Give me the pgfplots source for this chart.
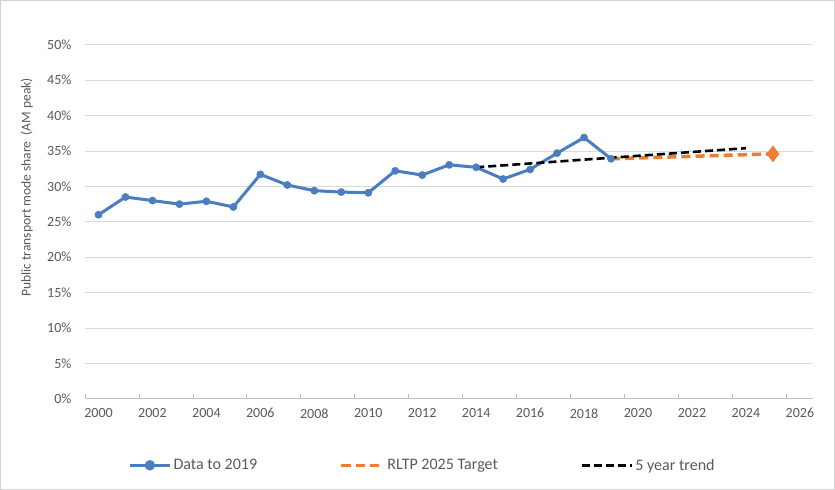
\documentclass[border=0pt]{standalone}
\usepackage{pgfplots}
\pgfplotsset{compat=1.18}
\usepackage{fontspec}
\setmainfont{Carlito}
\definecolor{cblue}{HTML}{4A7EBF}
\definecolor{corange}{HTML}{ED7D31}
\definecolor{cgrid}{HTML}{D9D9D9}
\definecolor{caxis}{HTML}{BFBFBF}
\definecolor{ctext}{HTML}{595959}
\pgfplotstableread{
x y
2000 26.0
2001 28.5
2002 28.0
2003 27.5
2004 27.9
2005 27.1
2006 31.7
2007 30.2
2008 29.4
2009 29.2
2010 29.1
2011 32.2
2012 31.6
2013 33.05
2014 32.7
2015 31.05
2016 32.4
2017 34.7
2018 36.9
2019 33.9
}\datatab
\begin{document}
\begin{tikzpicture}
\begin{axis}[
  scale only axis,
  width=724bp, height=352bp,
  xmin=1999.5, xmax=2026.5,
  ymin=0, ymax=50,
  xtick={2000,2002,...,2026},
  xticklabels={2000,2002,2004,2006,2008,2010,2012,2014,2016,2018,2020,2022,2024,2026},
  ytick={0,5,...,50},
  yticklabel={\pgfmathprintnumber{\tick}\%},
  major tick length=0pt,
  extra x ticks={1999.5,2001.5,...,2025.5},
  extra x tick labels={},
  extra x tick style={major tick length=5bp, tick style={draw=caxis, line width=0.8bp}, grid=none},
  ymajorgrids, grid style={draw=cgrid, line width=0.9bp},
  axis x line*=bottom, axis y line*=left,
  axis line style={draw=caxis, line width=0.9bp},
  x axis line style={-},
  y axis line style={draw=none},
  tick label style={font=\fontsize{14}{16}\selectfont, text=ctext},
  /pgf/number format/assume math mode=true,
  xticklabel style={yshift=-6bp},
  yticklabel style={xshift=-10bp},
  ylabel={Public transport mode share\ \ (AM peak)},
  ylabel style={at={(axis description cs:-0.08,0.597)}, anchor=center, font=\fontsize{13.5}{15}\selectfont, text=ctext},
  legend columns=3,
  legend style={at={(axis description cs:0.055,-0.1875)}, anchor=west, draw=none, fill=none,
    font=\fontsize{16}{18}\selectfont, text=ctext, /tikz/every even column/.append style={column sep=80bp}},
  legend cell align=left,
  clip=false,
]
\addplot[cblue, line width=3bp, mark=*, mark size=3.6bp, mark options={solid, fill=cblue, draw=cblue, line width=0.5bp},
  legend image code/.code={\draw[cblue, line width=3bp] (0bp,0bp) -- (40bp,0bp); \fill[cblue] (20bp,0bp) circle (3.6bp);}]
  table[x=x,y=y]{\datatab};
\addlegendentry{Data to 2019}
\addplot[corange, line width=3.5bp, dash pattern=on 9bp off 5bp, mark=diamond*, mark size=5.5bp, mark indices={2},
  mark options={solid, fill=corange, draw=corange},
  legend image code/.code={\draw[corange, line width=3.5bp, dash pattern=on 9bp off 5bp] (0bp,0bp) -- (42bp,0bp);}]
  coordinates {(2019,33.9) (2025,34.6)};
\addlegendentry{RLTP 2025 Target}
\addplot[black, line width=2.6bp, dash pattern=on 8bp off 4bp, no markers,
  legend image code/.code={\draw[black, line width=2.6bp, dash pattern=on 8bp off 4bp] (0bp,0bp) -- (50bp,0bp);}]
  coordinates {(2014,32.7) (2024,35.4)};
\addlegendentry{5 year trend}
\end{axis}
\draw[gray!35, line width=1bp] ([shift={(-84bp,-90bp)}]current axis.south west) rectangle ([shift={(21bp,44bp)}]current axis.north east);
\end{tikzpicture}
\end{document}
